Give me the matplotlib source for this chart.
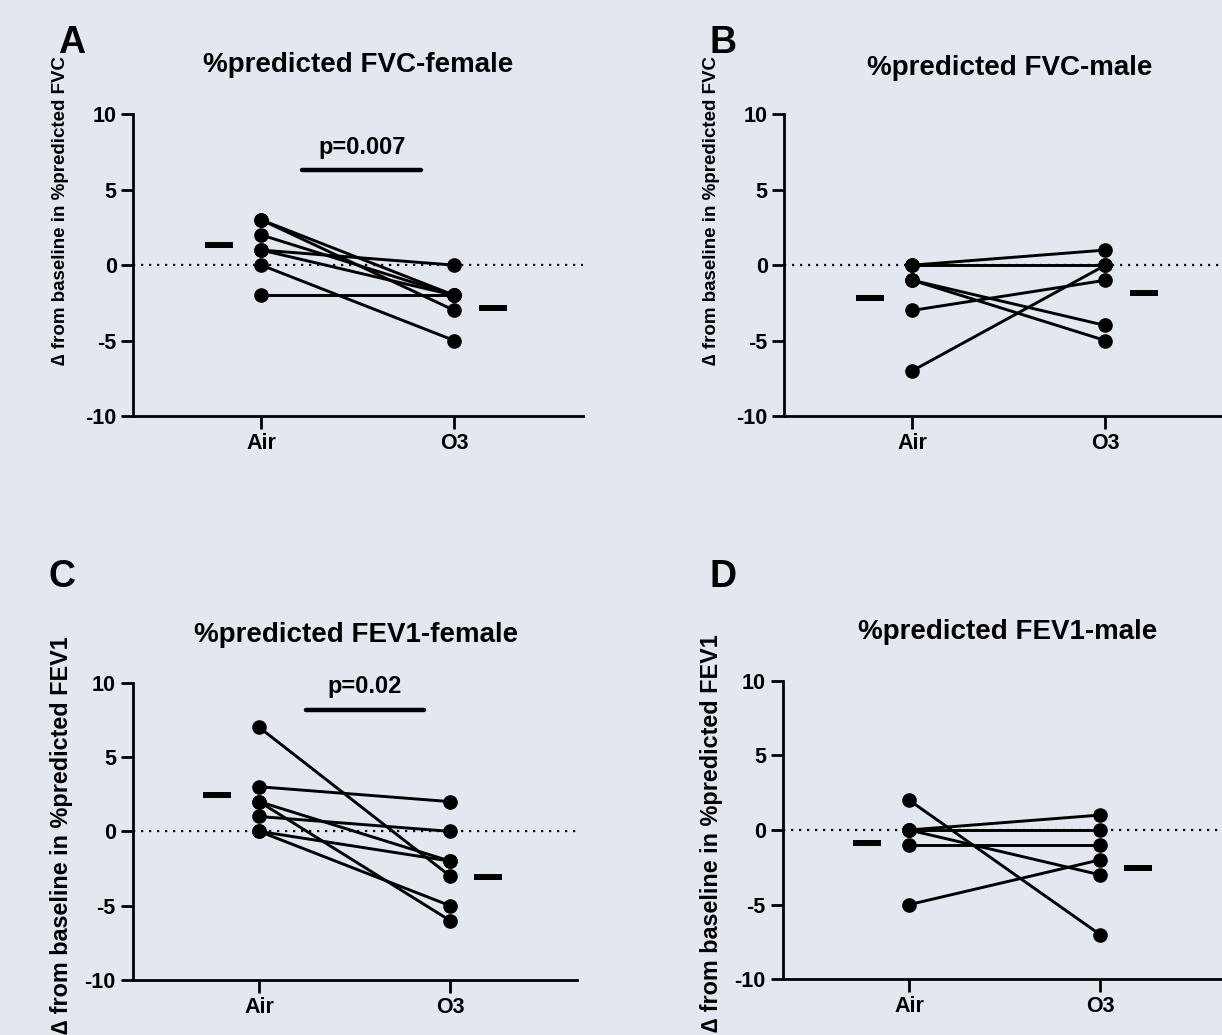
import numpy as np
import matplotlib
matplotlib.use('Agg')
import matplotlib.pyplot as plt

W, H = 1222, 1035
BG = '#e3e7ef'

groups = ['Air', 'O3']
yticks = [-10, -5, 0, 5, 10]

# A: %predicted FVC-female
fvc_f_air = [3, 3, 2, 1, 1, 0, -2]
fvc_f_o3 = [-2, -3, -2, 0, -2, -5, -2]
fvc_f_mean = [1.35, -2.83]

# B: %predicted FVC-male
fvc_m_air = [0, 0, -1, -1, -3, -7]
fvc_m_o3 = [1, 0, -4, -5, -1, 0]
fvc_m_mean = [-2.21, -1.83]

# C: %predicted FEV1-female
fev1_f_air = [7, 3, 2, 2, 1, 0, 0]
fev1_f_o3 = [-3, 2, -2, -6, 0, -2, -5]
fev1_f_mean = [2.42, -3.05]

# D: %predicted FEV1-male
fev1_m_air = [2, 0, 0, 0, -1, -5]
fev1_m_o3 = [-7, 1, 0, -3, -1, -2]
fev1_m_mean = [-0.85, -2.57]

titles = ['%predicted FVC-female', '%predicted FVC-male',
          '%predicted FEV1-female', '%predicted FEV1-male']
letters = ['A', 'B', 'C', 'D']
ylabels = ['\u2206 from baseline in %predicted FVC', '\u2206 from baseline in %predicted FVC',
           '\u2206 from baseline in %predicted FEV1', '\u2206 from baseline in %predicted FEV1']
pvals = ['p=0.007', None, 'p=0.02', None]
pbar_y = [6.3, None, 8.16, None]
ptext_y = [7.4, None, 9.33, None]

plt.rcParams['font.family'] = ['Liberation Sans', 'DejaVu Sans']
plt.rcParams['font.weight'] = 'bold'
plt.rcParams['axes.unicode_minus'] = False

fig = plt.figure(figsize=(W / 100, H / 100), dpi=100, facecolor=BG)


def px(x, y):
    return x / W, 1 - y / H


# axes boxes in pixels: left, top, right, bottom
boxes = [(133.3, 114.3, 582.6, 416), (784.4, 114.3, 1233.7, 416),
         (132.5, 682.7, 576.8, 980), (782.5, 680.7, 1226.8, 979.3)]
title_pos = [(358, 72), (1010, 75), (356, 641.7), (1007.5, 639.3)]
letter_pos = [(58.5, 53.3), (710, 53.3), (48.7, 587), (710, 587)]
ylab_pos = [(60.5, 210.5), (711.5, 210.5), (61.4, 835), (711.5, 833)]
ylab_size = [13.5, 13.5, 16.8, 16.8]

data = [(fvc_f_air, fvc_f_o3, fvc_f_mean), (fvc_m_air, fvc_m_o3, fvc_m_mean),
        (fev1_f_air, fev1_f_o3, fev1_f_mean), (fev1_m_air, fev1_m_o3, fev1_m_mean)]

x = np.arange(len(groups))
mean_off = [-0.22, 0.2]
half = 0.0725

for i in range(4):
    l, t, r, b = boxes[i]
    ax = fig.add_axes([l / W, 1 - b / H, (r - l) / W, (b - t) / H])
    ax.set_facecolor('none')
    air, o3, means = data[i]

    ax.axhline(0, color='k', lw=1.6, ls=(0, (1, 2.6)), zorder=1)
    for a, o in zip(air, o3):
        ax.plot(x, [a, o], color='k', lw=2.1, marker='o', ms=9.5, zorder=3, clip_on=False)

    mx = x + np.array(mean_off)
    ax.hlines(means, mx - half, mx + half, color='k', lw=4.3, capstyle='butt', zorder=3)

    if pvals[i]:
        xs = [0.212, 0.828] if i == 0 else [0.245, 0.863]
        ax.plot(xs, [pbar_y[i]] * 2, color='k', lw=3.2, solid_capstyle='round')
        ax.text(np.mean(xs), ptext_y[i], pvals[i], ha='center', va='baseline', fontsize=17)

    ax.set_xlim(-0.663, 1.664)
    ax.set_ylim(-10, 10)
    ax.set_xticks(x, groups)
    ax.set_yticks(yticks)
    ax.spines[['top', 'right']].set_visible(False)
    ax.spines[['left', 'bottom']].set_linewidth(2)
    ax.tick_params(width=2, length=9, labelsize=15.5, pad=3)

    fig.text(*px(*title_pos[i]), titles[i], ha='center', va='baseline', fontsize=20)
    fig.text(*px(*letter_pos[i]), letters[i], ha='left', va='baseline', fontsize=27)
    fig.text(*px(*ylab_pos[i]), ylabels[i], rotation=90, ha='center', va='center',
             fontsize=ylab_size[i])

fig.savefig('out.png', dpi=100, facecolor=BG)
